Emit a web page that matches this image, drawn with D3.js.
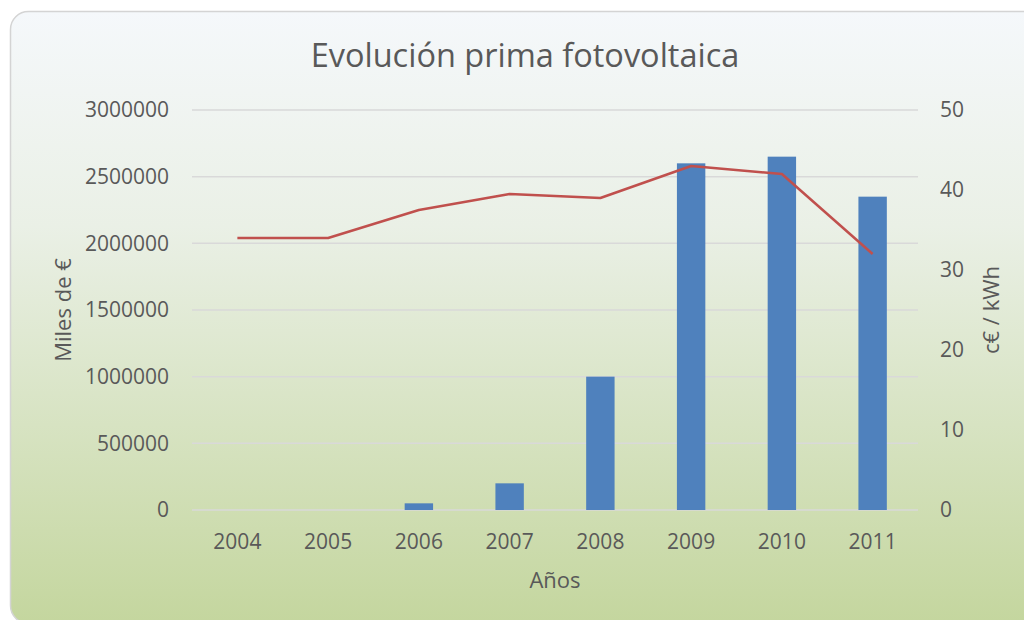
<!DOCTYPE html>
<html>
<head>
<meta charset="utf-8">
<script src="https://cdn.jsdelivr.net/npm/d3@7"></script>
<style>
  body { margin: 0; background: #fff; }
  text { font-family: "Open Sans", sans-serif; fill: #595959; }
</style>
</head>
<body>
<div id="chart"></div>
<script>
const years = ['2004', '2005', '2006', '2007', '2008', '2009', '2010', '2011'];
const primaMiles = [0, 0, 50000, 200000, 1000000, 2600000, 2650000, 2350000];
const centKwh = [34, 34, 37.5, 39.5, 39, 43, 42, 32];
const leftTicks = [0, 500000, 1000000, 1500000, 2000000, 2500000, 3000000];
const rightTicks = [0, 10, 20, 30, 40, 50];

const W = 1024, H = 620;
const plot = { left: 192, right: 918, top: 110, bottom: 510 };

const svg = d3.select('#chart').append('svg')
  .attr('width', W)
  .attr('height', H);

const grad = svg.append('defs').append('linearGradient')
  .attr('id', 'bg')
  .attr('x1', 0).attr('y1', 0).attr('x2', 0).attr('y2', 1);
grad.append('stop').attr('offset', '0%').attr('stop-color', '#f5f8fb');
grad.append('stop').attr('offset', '35%').attr('stop-color', '#eaf0e6');
grad.append('stop').attr('offset', '100%').attr('stop-color', '#c4d69e');

svg.append('rect')
  .attr('x', 10.5).attr('y', 11.5)
  .attr('width', 1030).attr('height', 612)
  .attr('rx', 18)
  .attr('fill', 'url(#bg)')
  .attr('stroke', '#d4d4d4')
  .attr('stroke-width', 1.5);

const x = d3.scaleBand()
  .domain(years)
  .range([plot.left, plot.right])
  .paddingInner(0.687)
  .paddingOuter(0.3435);

const xCenter = d3.scaleBand().domain(years).range([plot.left, plot.right]);

const yL = d3.scaleLinear().domain([0, 3000000]).range([plot.bottom, plot.top]);
const yR = d3.scaleLinear().domain([0, 50]).range([plot.bottom, plot.top]);

// gridlines
svg.append('g')
  .selectAll('line')
  .data(leftTicks)
  .join('line')
  .attr('x1', plot.left).attr('x2', plot.right)
  .attr('y1', d => yL(d)).attr('y2', d => yL(d))
  .attr('stroke', '#d9d9d9')
  .attr('stroke-width', 1.5);

// left axis
const leftAxis = svg.append('g')
  .attr('transform', `translate(${plot.left},0)`)
  .call(d3.axisLeft(yL).tickValues(leftTicks).tickSize(0).tickPadding(23).tickFormat(d3.format('d')));
leftAxis.select('.domain').remove();
leftAxis.selectAll('text').style('font-size', '21px').attr('fill', '#595959');

// right axis
const rightAxis = svg.append('g')
  .attr('transform', `translate(${plot.right},0)`)
  .call(d3.axisRight(yR).tickValues(rightTicks).tickSize(0).tickPadding(22));
rightAxis.select('.domain').remove();
rightAxis.selectAll('text').style('font-size', '21px').attr('fill', '#595959');

// bottom axis
const bottomAxis = svg.append('g')
  .attr('transform', `translate(0,${plot.bottom})`)
  .call(d3.axisBottom(xCenter).tickSize(0).tickPadding(24));
bottomAxis.select('.domain').remove();
bottomAxis.selectAll('text').style('font-size', '21px').attr('fill', '#595959');

// bars
svg.append('g')
  .selectAll('rect')
  .data(years)
  .join('rect')
  .attr('x', (d) => x(d))
  .attr('width', x.bandwidth())
  .attr('y', (d, i) => yL(primaMiles[i]))
  .attr('height', (d, i) => plot.bottom - yL(primaMiles[i]))
  .attr('fill', '#4f81bd');

// line
svg.append('path')
  .datum(centKwh)
  .attr('fill', 'none')
  .attr('stroke', '#c0504d')
  .attr('stroke-width', 2.5)
  .attr('stroke-linejoin', 'round')
  .attr('d', d3.line()
    .x((d, i) => xCenter(years[i]) + xCenter.bandwidth() / 2)
    .y(d => yR(d)));

// titles
svg.append('text')
  .attr('x', 525).attr('y', 67)
  .attr('text-anchor', 'middle')
  .style('font-size', '32.5px')
  .text('Evolución prima fotovoltaica');

svg.append('text')
  .attr('transform', 'translate(71,310) rotate(-90)')
  .attr('text-anchor', 'middle')
  .style('font-size', '22px')
  .text('Miles de €');

svg.append('text')
  .attr('transform', 'translate(999,310) rotate(-90)')
  .attr('text-anchor', 'middle')
  .style('font-size', '22px')
  .text('c€ / kWh');

svg.append('text')
  .attr('x', 555).attr('y', 588)
  .attr('text-anchor', 'middle')
  .style('font-size', '22px')
  .text('Años');
</script>
</body>
</html>
